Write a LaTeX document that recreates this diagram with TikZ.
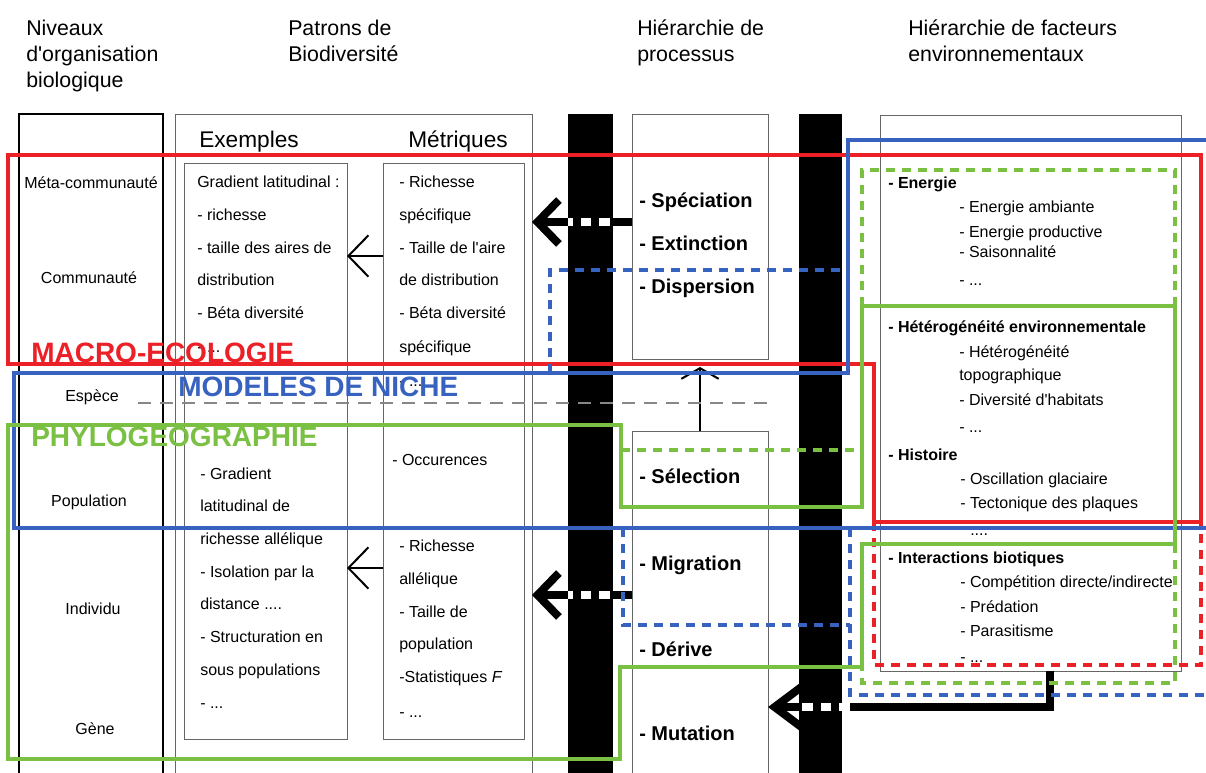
\documentclass[tikz,border=0pt]{standalone}
\usepackage{fontspec}
\setmainfont{Liberation Sans}
\usetikzlibrary{fit,calc,arrows.meta}
\definecolor{cred}{RGB}{236,32,39}
\definecolor{cblue}{RGB}{55,98,192}
\definecolor{cgreen}{RGB}{122,192,66}
\definecolor{cgray}{RGB}{135,135,135}
\begin{document}
\begin{tikzpicture}[x=0.75pt, y=-0.75pt,
  box/.style={draw=black!60, line width=0.75pt, inner sep=0pt, outer sep=0pt},
  barbox/.style={fill=black, inner sep=0pt, outer sep=0pt},
  hd/.style={anchor=base west, inner sep=0pt, font=\fontsize{16}{19}\selectfont},
  sub/.style={anchor=base west, inner sep=0pt, font=\fontsize{17}{20}\selectfont},
  lvl/.style={anchor=base, inner sep=0pt, font=\fontsize{12}{14}\selectfont},
  tx/.style={anchor=base west, inner sep=0pt, font=\fontsize{12}{14}\selectfont},
  bt/.style={anchor=base west, inner sep=0pt, font=\fontsize{12}{14}\selectfont\bfseries},
  pr/.style={anchor=base west, inner sep=0pt, font=\fontsize{15}{18}\selectfont\bfseries},
  big/.style={anchor=base west, inner sep=0pt, font=\fontsize{21}{25}\selectfont\bfseries},
  thinarr/.style={draw=black, line width=1.5pt, -{Straight Barb[sharp,length=15pt,width=31pt]}},
  uparr/.style={draw=black, line width=1.5pt, -{Straight Barb[sharp,length=8pt,width=28pt]}},
  thickarr/.style={draw=black, line width=6pt, line join=miter, -{Straight Barb[sharp,length=16pt,width=33pt]}},
  thickarrb/.style={draw=black, line width=6pt, line join=miter, -{Straight Barb[sharp,length=22pt,width=33pt]}},
  wdash/.style={draw=white, line width=6.3pt, dash pattern=on 8pt off 6pt},
  redln/.style={draw=cred, line width=3pt, line join=miter},
  redds/.style={draw=cred, line width=3pt, dash pattern=on 7pt off 5pt},
  blueln/.style={draw=cblue, line width=2.5pt, line join=miter},
  blueds/.style={draw=cblue, line width=3pt, dash pattern=on 7pt off 5pt},
  greenln/.style={draw=cgreen, line width=2.6pt, line join=miter},
  greends/.style={draw=cgreen, line width=3pt, dash pattern=on 7pt off 5pt},
  grayds/.style={draw=cgray, line width=2.2pt, dash pattern=on 10pt off 6.5pt},
]
\useasboundingbox (0,0) rectangle (1206,772);
\clip (0,0) rectangle (1206,772);
\fill[white] (0,0) rectangle (1206,772);

% headers
\node[hd] (h1a) at (26,35) {Niveaux};
\node[hd] (h1b) at (26,61) {d\textquotesingle organisation};
\node[hd] (h1c) at (26,87) {biologique};
\node[hd] (h2a) at (288,35) {Patrons de};
\node[hd] (h2b) at (288,61) {Biodiversité};
\node[hd] (h3a) at (637,35) {Hiérarchie de};
\node[hd] (h3b) at (637,61) {processus};
\node[hd] (h4a) at (908,35) {Hiérarchie de facteurs};
\node[hd] (h4b) at (908,61) {environnementaux};

% boxes
\node[box, draw=black, line width=1.1pt, fit={(19,114) (163,790)}] (c1) {};
\node[box, fit={(175,114) (532,790)}] (c2) {};
\node[box, fit={(184,163) (347,739)}] (ex) {};
\node[box, fit={(383,163) (524,739)}] (me) {};
\node[barbox, fit={(568,114) (613,790)}] (b1) {};
\node[barbox, fit={(799,114) (842,790)}] (b2) {};
\node[box, fit={(632,114) (768,359)}] (pu) {};
\node[box, fit={(632,431) (768,790)}] (pl) {};
\node[box, fit={(880,115) (1181,671)}] (c4) {};

\node[sub] (exh) at (199,147) {Exemples};
\node[sub] (meh) at (408,147) {Métriques};

% level labels
\node[lvl] (l1) at (91,188.5) {Méta-communauté};
\node[lvl] (l2) at (89,283.5) {Communauté};
\node[lvl] (l3) at (92,401.5) {Espèce};
\node[lvl] (l4) at (89,506.5) {Population};
\node[lvl] (l5) at (93,614.5) {Individu};
\node[lvl] (l6) at (95,734.5) {Gène};

% exemples
\node[tx] (e1) at (197,187.5) {Gradient latitudinal :};
\node[tx] (e2) at (197,220.5) {- richesse};
\node[tx] (e3) at (197,253.5) {- taille des aires de};
\node[tx] (e4) at (197,285.5) {distribution};
\node[tx] (e5) at (197,318.5) {- Béta diversité};
\node[tx] (e6) at (197,352) {- ...};
\node[tx] (e7) at (200,479.5) {- Gradient};
\node[tx] (e8) at (200,511.5) {latitudinal de};
\node[tx] (e9) at (200,544.5) {richesse allélique};
\node[tx] (e10) at (200,577.5) {- Isolation par la};
\node[tx] (e11) at (200,609.5) {distance ....};
\node[tx] (e12) at (200,642.5) {- Structuration en};
\node[tx] (e13) at (200,675.5) {sous populations};
\node[tx] (e14) at (200,708.5) {- ...};

% metriques
\node[tx] (m1) at (399,187.5) {- Richesse};
\node[tx] (m2) at (399,220.5) {spécifique};
\node[tx] (m3) at (399,253.5) {- Taille de l\textquotesingle aire};
\node[tx] (m4) at (399,285.5) {de distribution};
\node[tx] (m5) at (399,318.5) {- Béta diversité};
\node[tx] (m6) at (399,352) {spécifique};
\node[tx] (m7) at (399,386) {- ...};
\node[tx] (m8) at (392,465.5) {- Occurences};
\node[tx] (m9) at (399,551.5) {- Richesse};
\node[tx] (m10) at (399,584.5) {allélique};
\node[tx] (m11) at (399,617.5) {- Taille de};
\node[tx] (m12) at (399,649.5) {population};
\node[tx] (m13) at (399,682.5) {-Statistiques \textit{F}};
\node[tx] (m14) at (399,717.5) {- ...};

% processes
\node[pr] (p1) at (639,207) {- Spéciation};
\node[pr] (p2) at (639,250) {- Extinction};
\node[pr] (p3) at (639,293) {- Dispersion};
\node[pr] (p4) at (639,483) {- Sélection};
\node[pr] (p5) at (639,570) {- Migration};
\node[pr] (p6) at (639,656) {- Dérive};
\node[pr] (p7) at (639,740) {- Mutation};

% environmental factors
\node[bt] (f1) at (888,188.5) {- Energie};
\node[tx] (f2) at (959,212.5) {- Energie ambiante};
\node[tx] (f3) at (959,237.5) {- Energie productive};
\node[tx] (f4) at (959,257.5) {- Saisonnalité};
\node[tx] (f5) at (959,285.5) {- ...};
\node[bt] (f6) at (888,332.5) {- Hétérogénéité environnementale};
\node[tx] (f7) at (959,357.5) {- Hétérogénéité};
\node[tx] (f8) at (959,380.5) {topographique};
\node[tx] (f9) at (959,405.5) {- Diversité d\textquotesingle habitats};
\node[tx] (f10) at (959,432.5) {- ...};
\node[bt] (f11) at (888,460) {- Histoire};
\node[tx] (f12) at (960,484.5) {- Oscillation glaciaire};
\node[tx] (f13) at (960,508.5) {- Tectonique des plaques};
\node[tx] (f14) at (970,535) {....};
\node[bt] (f15) at (888,563.5) {- Interactions biotiques};
\node[tx] (f16) at (960,587.5) {- Compétition directe/indirecte};
\node[tx] (f17) at (960,612.5) {- Prédation};
\node[tx] (f18) at (960,636.5) {- Parasitisme};
\node[tx] (f19) at (960,662) {- ...};

% thin arrows
\draw[thinarr] (me.west |- 0,256) -- (ex.east |- 0,256);
\draw[thinarr] (me.west |- 0,568) -- (ex.east |- 0,568);
\draw[uparr] (pl.north) -- ($(pu.south)+(0,8)$);

% thick arrows
\draw[thickarr] (pu.west |- 0,222) -- (c2.east |- 0,222);
\draw[wdash] ($(b1.east |- 0,222)+(-3,0)$) -- (b1.west |- 0,222);
\draw[thickarr] (pl.west |- 0,595) -- (c2.east |- 0,595);
\draw[wdash] ($(b1.east |- 0,595)+(-3,0)$) -- (b1.west |- 0,595);
\draw[thickarrb] (c4.south -| 1050,0) |- (pl.east |- 0,707);
\draw[wdash] ($(b2.east |- 0,707)+(8,0)$) -- (b2.west |- 0,707);

% gray dashed
\draw[grayds] (138,403) -- (773,403);

% red
\draw[redln] (8,155) -- (1201,155) -- (1201,522) -- (874,522) -- (874,364) -- (8,364) -- cycle;
\draw[redds] (874,522) -- (874,665) -- (1201,665) -- (1201,522);

% blue
\draw[blueln] (1215,140) -- (848,140) -- (848,373) -- (14,373) -- (14,528) -- (1215,528);
\draw[blueds] (550,373) -- (550,270) -- (848,270);
\draw[blueds] (623,528) -- (623,625) -- (850,625);
\draw[blueds] (850,528) -- (850,695) -- (1215,695);

% green
\draw[greenln] (8,425) -- (621,425) -- (621,507) -- (862,507) -- (862,306) -- (1175,306) -- (1175,544) -- (862,544) -- (862,667) -- (620,667) -- (620,759) -- (8,759) -- cycle;
\draw[greends] (621,450) -- (862,450);
\draw[greends] (862,306) -- (862,170) -- (1175,170) -- (1175,306);
\draw[greends] (1175,544) -- (1175,683) -- (862,683) -- (862,667);

% big labels
\node[big, text=cred] (lab1) at (31,362) {MACRO-ECOLOGIE};
\node[big, text=cblue] (lab2) at (178,396) {MODELES DE NICHE};
\node[big, text=cgreen] (lab3) at (31,446) {PHYLOGEOGRAPHIE};
\end{tikzpicture}
\end{document}
